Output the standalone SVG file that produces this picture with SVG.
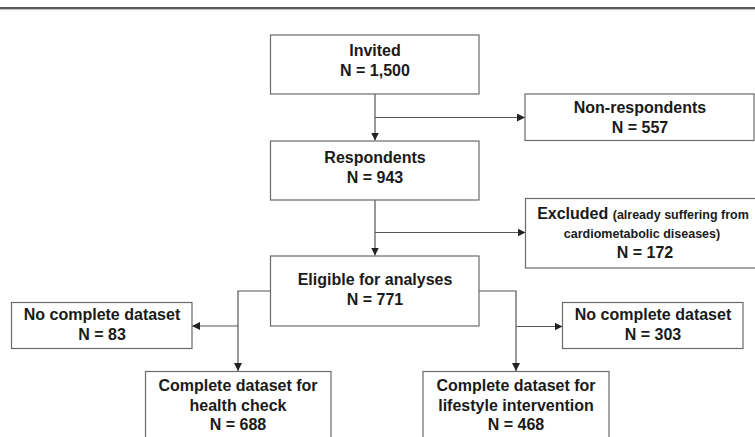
<svg xmlns="http://www.w3.org/2000/svg" width="755" height="437" viewBox="0 0 755 437">
<defs>
<marker id="arr" viewBox="0 0 10 10" refX="10" refY="5" markerWidth="8" markerHeight="8" markerUnits="userSpaceOnUse" orient="auto">
<path d="M0,0 L10,5 L0,10 z" fill="#222"/>
</marker>
</defs>
<style>
.box{fill:#fff;stroke:#6b6b6b;stroke-width:1.2}
.t{font-family:"Liberation Sans",Arial,sans-serif;font-weight:bold;font-size:16px;fill:#1a1a1a;text-anchor:middle}
.s{font-size:12.5px}
.c{fill:none;stroke:#555;stroke-width:1.2}
.a{marker-end:url(#arr)}
</style>
<rect width="755" height="437" fill="#fff"/>
<line x1="0" y1="8" x2="755" y2="8" stroke="#222" stroke-width="1.6"/>
<line x1="0" y1="9.6" x2="755" y2="9.6" stroke="#aaa" stroke-width="0.8"/>
<g id="connectors">
<line class="c a" x1="375" y1="94" x2="375" y2="140.5"/>
<line class="c a" x1="375" y1="117.5" x2="525" y2="117.5"/>
<line class="c a" x1="375" y1="200" x2="375" y2="255.5"/>
<line class="c a" x1="375" y1="232.5" x2="525.5" y2="232.5"/>
<polyline class="c a" points="270.5,291 238,291 238,371"/>
<polyline class="c a" points="479,291 516,291 516,371"/>
<line class="c a" x1="238" y1="326" x2="192" y2="326"/>
<line class="c a" x1="516" y1="326.5" x2="562.5" y2="326.5"/>
</g>
<g id="invited">
<rect class="box" x="270.5" y="35" width="208.5" height="59"/>
<text class="t" x="375" y="56">Invited</text>
<text class="t" x="375" y="76">N = 1,500</text>
</g>
<g id="nonrespondents">
<rect class="box" x="525" y="94" width="229" height="46.5"/>
<text class="t" x="640" y="113">Non-respondents</text>
<text class="t" x="640" y="133">N = 557</text>
</g>
<g id="respondents">
<rect class="box" x="270.5" y="141" width="208.5" height="59"/>
<text class="t" x="375" y="163">Respondents</text>
<text class="t" x="375" y="183">N = 943</text>
</g>
<g id="excluded">
<rect class="box" x="525.5" y="198.5" width="240" height="69.5"/>
<text class="t" x="643" y="219">Excluded <tspan class="s">(already suffering from</tspan></text>
<text class="t s" x="642" y="238">cardiometabolic diseases)</text>
<text class="t" x="645" y="258">N = 172</text>
</g>
<g id="eligible">
<rect class="box" x="270.5" y="256" width="208.5" height="70"/>
<text class="t" x="375" y="285">Eligible for analyses</text>
<text class="t" x="375" y="305">N = 771</text>
</g>
<g id="nocomplete-left">
<rect class="box" x="11.5" y="302.5" width="180.5" height="46"/>
<text class="t" x="102" y="320">No complete dataset</text>
<text class="t" x="102" y="340">N = 83</text>
</g>
<g id="nocomplete-right">
<rect class="box" x="562.5" y="302.5" width="180.5" height="46"/>
<text class="t" x="653" y="320">No complete dataset</text>
<text class="t" x="653" y="340">N = 303</text>
</g>
<g id="healthcheck">
<rect class="box" x="145.5" y="371.5" width="185.5" height="80"/>
<text class="t" x="238" y="391">Complete dataset for</text>
<text class="t" x="238" y="411">health check</text>
<text class="t" x="238" y="430">N = 688</text>
</g>
<g id="lifestyle">
<rect class="box" x="423" y="371.5" width="186" height="80"/>
<text class="t" x="516" y="391">Complete dataset for</text>
<text class="t" x="516" y="411">lifestyle intervention</text>
<text class="t" x="516" y="430">N = 468</text>
</g>
</svg>
